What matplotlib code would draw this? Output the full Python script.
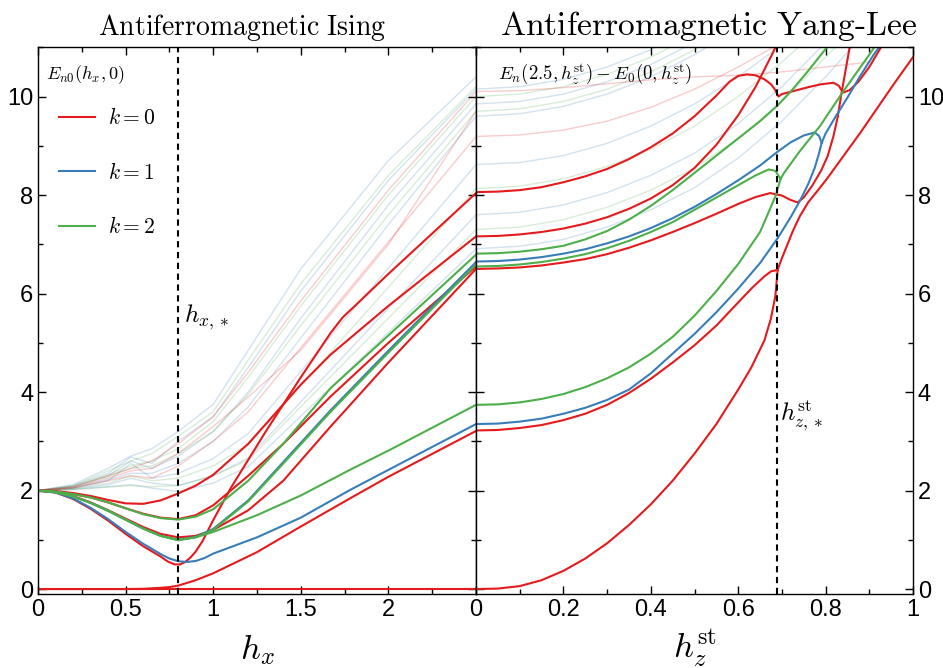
import matplotlib
matplotlib.use('Agg')
import matplotlib.pyplot as plt
from matplotlib.lines import Line2D
from matplotlib.ticker import MultipleLocator

plt.rcParams['font.family'] = ['Liberation Sans', 'DejaVu Sans']
plt.rcParams['mathtext.fontset'] = 'cm'

RED = '#e41a1c'
BLUE = '#377eb8'
GREEN = '#4daf4a'

# ---------------- left panel (antiferromagnetic Ising), bold levels ----------------
L_R0_x = [0, 2.5]
L_R0_y = [0, 0]
L_R1_x = [0, 0.5, 0.6, 0.7, 0.75, 0.8, 0.9, 1.0, 1.25, 1.5, 1.78, 2.0, 2.5]
L_R1_y = [0, 0, 0.005, 0.025, 0.04, 0.07, 0.18, 0.32, 0.75, 1.27, 1.84, 2.28, 3.21]
L_R2_x = [0, 0.1, 0.2, 0.3, 0.4, 0.5, 0.6, 0.7, 0.74, 0.78, 0.81, 0.84, 0.87, 0.9, 0.94, 1.0, 1.1, 1.3, 1.5, 1.67, 1.74, 1.8, 2.0, 2.25, 2.5]
L_R2_y = [2, 1.96, 1.83, 1.63, 1.39, 1.12, 0.87, 0.66, 0.56, 0.5, 0.5, 0.55, 0.64, 0.76, 0.98, 1.4, 2.05, 3.2, 4.3, 5.2, 5.52, 5.72, 6.4, 7.22, 8.04]
L_R3_x = [0, 0.1, 0.2, 0.3, 0.4, 0.5, 0.6, 0.7, 0.8, 0.9, 1.0, 1.2, 1.5, 1.67, 2.0, 2.5]
L_R3_y = [2, 1.99, 1.95, 1.89, 1.81, 1.74, 1.73, 1.8, 1.94, 2.1, 2.32, 2.95, 4.15, 4.76, 5.75, 7.16]
L_MID_x = [0, 0.1, 0.2, 0.3, 0.4, 0.5, 0.6, 0.7, 0.8, 0.9, 1.0, 1.2, 1.4, 1.67, 2.0, 2.5]
L_R4_y = [2, 1.98, 1.93, 1.86, 1.76, 1.64, 1.53, 1.45, 1.42, 1.5, 1.7, 2.3, 2.95, 3.91, 5.0, 6.55]
L_R5_y = [2, 1.97, 1.89, 1.76, 1.6, 1.43, 1.26, 1.12, 1.05, 1.08, 1.2, 1.6, 2.2, 3.3, 4.6, 6.5]
L_G2_y = [2, 1.97, 1.88, 1.75, 1.59, 1.41, 1.23, 1.08, 1.0, 1.05, 1.2, 1.78, 2.55, 3.6, 4.8, 6.59]
L_B2_y = [2, 1.97, 1.88, 1.75, 1.59, 1.41, 1.23, 1.08, 1.0, 1.06, 1.22, 1.8, 2.58, 3.63, 4.84, 6.64]
L_G3_y = [2, 1.98, 1.93, 1.86, 1.76, 1.64, 1.52, 1.44, 1.41, 1.47, 1.62, 2.2, 2.95, 4.08, 5.15, 6.79]
L_B1_x = [0, 0.1, 0.2, 0.3, 0.4, 0.5, 0.6, 0.7, 0.75, 0.8, 0.85, 0.9, 0.95, 1.0, 1.25, 1.5, 1.78, 2.0, 2.22, 2.5]
L_B1_y = [2, 1.96, 1.84, 1.65, 1.42, 1.16, 0.92, 0.71, 0.62, 0.565, 0.55, 0.57, 0.63, 0.72, 1.05, 1.45, 2.01, 2.42, 2.83, 3.35]
L_G1_x = [0, 0.1, 0.2, 0.3, 0.4, 0.5, 0.6, 0.7, 0.8, 0.9, 1.0, 1.25, 1.5, 1.78, 2.01, 2.5]
L_G1_y = [2, 1.97, 1.88, 1.75, 1.59, 1.41, 1.23, 1.08, 0.99, 1.05, 1.16, 1.5, 1.9, 2.42, 2.83, 3.74]

# ---------------- left panel, faint levels ----------------
LF_x = [0, 0.2, 0.4, 0.53, 0.65, 0.8, 1.0, 1.2, 1.5, 2.0, 2.5]
LF_blue = [
    [2, 2.12, 2.45, 2.7, 2.85, 3.2, 3.75, 4.85, 6.5, 8.7, 10.4],
    [2, 2.1, 2.35, 2.68, 2.55, 3.0, 3.5, 4.5, 6.05, 8.3, 10.15],
    [2, 2.08, 2.3, 2.6, 2.45, 2.7, 3.2, 4.0, 5.5, 7.8, 9.85],
    [2, 2.05, 2.22, 2.35, 2.35, 2.55, 3.0, 3.7, 5.1, 7.4, 9.6],
    [2, 2.05, 2.2, 2.55, 2.25, 2.35, 2.65, 3.16, 4.42, 6.52, 8.62],
    [2, 2.03, 2.12, 2.25, 2.15, 2.1, 2.3, 2.66, 3.8, 5.7, 7.6],
    [2, 2.02, 2.08, 2.12, 2.05, 1.98, 2.15, 2.49, 3.51, 5.21, 6.91],
]
LF_green = [
    [2, 2.1, 2.4, 2.6, 2.75, 3.1, 3.6, 4.65, 6.2, 8.4, 10.2],
    [2, 2.08, 2.32, 2.5, 2.6, 2.85, 3.4, 4.3, 5.75, 8.0, 10.0],
    [2, 2.07, 2.28, 2.45, 2.5, 2.75, 3.2, 3.95, 5.35, 7.6, 9.7],
    [2, 2.04, 2.15, 2.3, 2.2, 2.25, 2.5, 2.93, 4.13, 6.13, 8.13],
    [2, 2.02, 2.07, 2.1, 2.08, 2.1, 2.3, 2.62, 3.7, 5.5, 7.3],
]
LF_red = [
    [2, 2.08, 2.3, 2.45, 2.6, 2.95, 3.5, 4.4, 5.85, 8.1, 10.1],
    [2, 2.06, 2.25, 2.4, 2.45, 2.75, 3.3, 3.9, 4.85, 7.0, 9.7],
    [2, 2.05, 2.2, 2.3, 2.25, 2.5, 3.0, 3.6, 4.9, 7.05, 9.19],
]

# ---------------- right panel (antiferromagnetic Yang-Lee), bold levels ----------------
R_RA_x = [0, 0.05, 0.1, 0.15, 0.2, 0.25, 0.3, 0.35, 0.4, 0.45, 0.5, 0.55, 0.6, 0.63, 0.66, 0.675, 0.685, 0.69]
R_RA_y = [0, 0.01, 0.06, 0.18, 0.37, 0.62, 0.93, 1.3, 1.72, 2.2, 2.75, 3.35, 4.05, 4.5, 5.05, 5.5, 5.95, 6.45]
R_RC_x = [0, 0.05, 0.1, 0.15, 0.2, 0.25, 0.3, 0.35, 0.4, 0.45, 0.5, 0.55, 0.6, 0.63, 0.66, 0.675, 0.69]
R_RC_y = [3.22, 3.23, 3.27, 3.33, 3.43, 3.56, 3.74, 3.98, 4.27, 4.6, 4.95, 5.35, 5.82, 6.1, 6.35, 6.45, 6.48]
R_RP_x = [0.69, 0.695, 0.7, 0.711, 0.725, 0.741, 0.76, 0.78, 0.803, 0.879, 0.955, 1.0]
R_RP_y = [6.48, 6.6, 6.72, 6.96, 7.27, 7.57, 7.85, 8.07, 8.33, 9.26, 10.24, 10.8]
R_R650_x = [0, 0.05, 0.1, 0.15, 0.2, 0.25, 0.3, 0.35, 0.4, 0.45, 0.5, 0.55, 0.6, 0.64, 0.673, 0.7, 0.72, 0.736,
            0.75, 0.77, 0.79, 0.805, 0.818, 0.828, 0.836, 0.845, 0.856]
R_R650_y = [6.5, 6.51, 6.53, 6.57, 6.63, 6.7, 6.8, 6.93, 7.08, 7.25, 7.43, 7.62, 7.82, 7.96, 8.04, 7.99, 7.9, 7.85,
            7.95, 8.2, 8.5, 8.8, 9.2, 9.6, 10.05, 10.5, 11.05]
R_R716_x = [0, 0.05, 0.1, 0.15, 0.2, 0.25, 0.3, 0.35, 0.4, 0.45, 0.5, 0.55, 0.6, 0.64, 0.68, 0.69]
R_R716_y = [7.16, 7.17, 7.2, 7.25, 7.32, 7.42, 7.55, 7.72, 7.93, 8.2, 8.55, 9.02, 9.62, 10.2, 10.9, 11.1]
R_R806_x = [0, 0.05, 0.1, 0.15, 0.2, 0.25, 0.3, 0.35, 0.4, 0.45, 0.5, 0.55, 0.58, 0.6, 0.62, 0.64, 0.66, 0.675,
            0.685, 0.692, 0.7, 0.73, 0.76, 0.79, 0.818, 0.83, 0.84, 0.855, 0.875, 0.9, 0.93]
R_R806_y = [8.06, 8.07, 8.1, 8.16, 8.26, 8.38, 8.53, 8.73, 8.97, 9.25, 9.6, 10.02, 10.3, 10.42, 10.45, 10.43, 10.35,
            10.25, 10.13, 10.0, 10.05, 10.12, 10.19, 10.25, 10.28, 10.22, 10.08, 10.13, 10.3, 10.6, 11.05]
R_BL_x = [0, 0.05, 0.1, 0.15, 0.2, 0.25, 0.3, 0.35, 0.4, 0.45, 0.5, 0.55, 0.6, 0.65, 0.69, 0.72, 0.741, 0.76,
          0.775, 0.785, 0.791]
R_BL_y = [3.35, 3.36, 3.4, 3.46, 3.56, 3.68, 3.84, 4.05, 4.38, 4.78, 5.18, 5.62, 6.1, 6.62, 7.12, 7.55, 7.88, 8.22,
          8.55, 8.85, 9.06]
R_BU_x = [0, 0.05, 0.1, 0.15, 0.2, 0.25, 0.3, 0.35, 0.4, 0.45, 0.5, 0.55, 0.6, 0.65, 0.69, 0.72, 0.75, 0.775,
          0.785, 0.791]
R_BU_y = [6.65, 6.66, 6.69, 6.74, 6.81, 6.9, 7.02, 7.16, 7.33, 7.53, 7.76, 8.02, 8.3, 8.6, 8.88, 9.07, 9.21, 9.27,
          9.2, 9.06]
R_BT_x = [0.791, 0.8, 0.82, 0.85, 0.88, 0.91, 0.93]
R_BT_y = [9.06, 9.25, 9.55, 9.98, 10.43, 10.85, 11.1]
R_GL_x = [0, 0.05, 0.1, 0.15, 0.2, 0.25, 0.3, 0.35, 0.4, 0.45, 0.5, 0.55, 0.6, 0.65, 0.685, 0.697]
R_GL_y = [3.74, 3.75, 3.79, 3.86, 3.96, 4.1, 4.28, 4.5, 4.78, 5.12, 5.55, 6.05, 6.6, 7.25, 7.97, 8.33]
R_GM_x = [0, 0.05, 0.1, 0.15, 0.2, 0.25, 0.3, 0.35, 0.4, 0.45, 0.5, 0.55, 0.6, 0.64, 0.67, 0.685, 0.697]
R_GM_y = [6.55, 6.56, 6.59, 6.64, 6.71, 6.8, 6.92, 7.07, 7.25, 7.45, 7.7, 7.95, 8.2, 8.4, 8.52, 8.49, 8.33]
R_GP_x = [0.697, 0.705, 0.74, 0.787, 0.84, 0.9, 0.915]
R_GP_y = [8.33, 8.45, 8.88, 9.4, 10.1, 10.85, 11.05]
R_GU_x = [0, 0.05, 0.1, 0.15, 0.2, 0.25, 0.3, 0.35, 0.4, 0.45, 0.5, 0.55, 0.6, 0.65, 0.69, 0.72, 0.76, 0.803]
R_GU_y = [6.81, 6.82, 6.85, 6.9, 6.97, 7.1, 7.27, 7.5, 7.78, 8.1, 8.45, 8.8, 9.15, 9.5, 9.82, 10.1, 10.52, 11.0]

# ---------------- right panel, faint levels ----------------
RF_x = [0, 0.1, 0.2, 0.3, 0.4, 0.5, 0.6, 0.7, 0.8, 0.9]
RF_blue = [
    [10.15, 10.2, 10.35, 10.6, 10.95, 11.4, 11.9, 12.5, 13.1, 13.8],
    [9.85, 9.9, 10.05, 10.3, 10.65, 11.1, 11.6, 12.2, 12.8, 13.5],
    [9.6, 9.65, 9.8, 10.05, 10.4, 10.85, 11.4, 12.0, 12.6, 13.3],
    [8.62, 8.66, 8.8, 9.05, 9.4, 9.85, 10.4, 11.05, 11.8, 12.6],
    [7.6, 7.65, 7.8, 8.05, 8.4, 8.85, 9.45, 10.2, 11.1, 12.0],
    [6.91, 6.96, 7.1, 7.35, 7.7, 8.15, 8.75, 9.5, 10.4, 11.4],
]
RF_green = [
    [10.0, 10.05, 10.2, 10.45, 10.8, 11.25, 11.8, 12.4, 13.0, 13.7],
    [9.7, 9.75, 9.9, 10.15, 10.5, 10.95, 11.5, 12.1, 12.7, 13.4],
    [8.13, 8.18, 8.33, 8.58, 8.93, 9.4, 10.0, 10.7, 11.5, 12.3],
    [7.3, 7.35, 7.5, 7.75, 8.1, 8.55, 9.15, 9.9, 10.8, 11.7],
]
RF_red = [
    [10.1, 10.12, 10.18, 10.26, 10.34, 10.4, 10.43, 10.5, 10.6, 10.7],
    [9.19, 9.22, 9.32, 9.5, 9.78, 10.15, 10.6, 11.1, 11.7, 12.4],
]

# ---------------- figure ----------------
fig = plt.figure(figsize=(9.43, 6.68), dpi=100)
axL = fig.add_axes([0.0403, 0.1108, 0.4645, 0.8184])
axR = fig.add_axes([0.5048, 0.1108, 0.4634, 0.8184])

FA = 0.22
for y in LF_blue:
    axL.plot(LF_x, y, color=BLUE, lw=1.0, alpha=FA)
for y in LF_green:
    axL.plot(LF_x, y, color=GREEN, lw=1.0, alpha=FA)
for y in LF_red:
    axL.plot(LF_x, y, color=RED, lw=1.0, alpha=FA)
for y in RF_blue:
    axR.plot(RF_x, y, color=BLUE, lw=1.0, alpha=FA)
for y in RF_green:
    axR.plot(RF_x, y, color=GREEN, lw=1.0, alpha=FA)
for y in RF_red:
    axR.plot(RF_x, y, color=RED, lw=1.0, alpha=FA)

LW = 1.5
# left bold
axL.plot(L_R0_x, L_R0_y, color=RED, lw=LW)
axL.plot(L_R1_x, L_R1_y, color=RED, lw=LW)
axL.plot(L_R2_x, L_R2_y, color=RED, lw=LW)
axL.plot(L_R3_x, L_R3_y, color=RED, lw=LW)
axL.plot(L_MID_x, L_R4_y, color=RED, lw=LW)
axL.plot(L_MID_x, L_R5_y, color=RED, lw=LW)
axL.plot(L_B1_x, L_B1_y, color=BLUE, lw=LW)
axL.plot(L_MID_x, L_B2_y, color=BLUE, lw=LW)
axL.plot(L_G1_x, L_G1_y, color=GREEN, lw=LW)
axL.plot(L_MID_x, L_G2_y, color=GREEN, lw=LW)
axL.plot(L_MID_x, L_G3_y, color=GREEN, lw=LW)

# right bold
for xs, ys in [(R_RA_x, R_RA_y), (R_RC_x, R_RC_y), (R_RP_x, R_RP_y), (R_R650_x, R_R650_y),
               (R_R716_x, R_R716_y), (R_R806_x, R_R806_y)]:
    axR.plot(xs, ys, color=RED, lw=LW)
for xs, ys in [(R_BL_x, R_BL_y), (R_BU_x, R_BU_y), (R_BT_x, R_BT_y)]:
    axR.plot(xs, ys, color=BLUE, lw=LW)
for xs, ys in [(R_GL_x, R_GL_y), (R_GM_x, R_GM_y), (R_GP_x, R_GP_y), (R_GU_x, R_GU_y)]:
    axR.plot(xs, ys, color=GREEN, lw=LW)

DASH = (0, (3, 2.2))
axL.axvline(0.8, color='k', lw=1.5, ls=DASH)
axR.axvline(0.689, color='k', lw=1.5, ls=DASH)

for ax in (axL, axR):
    ax.set_ylim(-0.1, 11)
    ax.yaxis.set_major_locator(MultipleLocator(2))
    ax.yaxis.set_minor_locator(MultipleLocator(1))
    ax.tick_params(which='both', direction='in', top=True, right=True, left=True, bottom=True,
                   labelsize=17, width=1.0)
    ax.tick_params(which='major', length=6)
    ax.tick_params(which='minor', length=3.5)
    for s in ax.spines.values():
        s.set_linewidth(1.0)

axL.set_xlim(0, 2.5)
axL.set_xticks([0, 0.5, 1, 1.5, 2, 2.5], ['0', '0.5', '1', '1.5', '2', ''])
axL.xaxis.set_minor_locator(MultipleLocator(0.25))
axL.set_yticks([0, 2, 4, 6, 8, 10], ['0', '2', '4', '6', '8', '10'])

axR.set_xlim(0, 1)
axR.set_xticks([0, 0.2, 0.4, 0.6, 0.8, 1.0], ['0', '0.2', '0.4', '0.6', '0.8', '1'])
axR.xaxis.set_minor_locator(MultipleLocator(0.1))
axR.set_yticks([0, 2, 4, 6, 8, 10], ['0', '2', '4', '6', '8', '10'])
axR.tick_params(labelleft=False, labelright=True)

axL.set_xlabel(r'$h_x$', fontsize=25, labelpad=8)
axR.set_xlabel(r'$h_z^{\rm st}$', fontsize=25, labelpad=4)

axL.text(0.466, 1.022, r'$\mathrm{Antiferromagnetic\ Ising}$', transform=axL.transAxes,
         ha='center', va='baseline', fontsize=20)
axR.text(0.533, 1.022, r'$\mathrm{Antiferromagnetic\ Yang\text{-}Lee}$', transform=axR.transAxes,
         ha='center', va='baseline', fontsize=24.2)

axL.text(0.835, 5.42, r'$h_{x,*}$', fontsize=18, va='baseline')
axR.text(0.696, 3.4, r'$h_{z,*}^{\rm st}$', fontsize=18, va='baseline')
axR.text(0.05, 10.35, r'$E_n(2.5,h_z^{\rm st})-E_0(0,h_z^{\rm st})$', fontsize=13.5, va='baseline')

# legend: title as text, entries as legend
axL.text(0.047, 10.45, r'$E_{n0}(h_x,0)$', fontsize=13, va='center', ha='left')
handles = [Line2D([], [], color=RED, lw=LW), Line2D([], [], color=BLUE, lw=LW),
           Line2D([], [], color=GREEN, lw=LW)]
leg = axL.legend(handles, [r'$k=0$', r'$k=1$', r'$k=2$'],
                 loc='upper left', bbox_to_anchor=(0.028, 0.904), frameon=False, fontsize=15.5,
                 labelspacing=1.55, handlelength=1.67, handletextpad=0.6, borderaxespad=0.0)

fig.savefig('out.png', dpi=100)
